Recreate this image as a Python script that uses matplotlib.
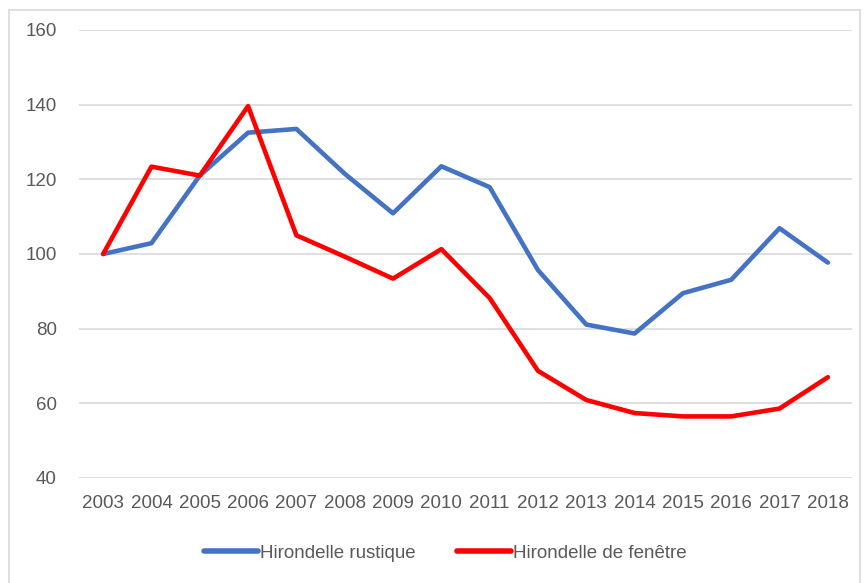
import matplotlib
matplotlib.use("Agg")
import matplotlib.pyplot as plt
from matplotlib.patches import Rectangle

# ── Data ──────────────────────────────────────────────────────────────────────
years = ["2003", "2004", "2005", "2006", "2007", "2008", "2009", "2010",
         "2011", "2012", "2013", "2014", "2015", "2016", "2017", "2018"]
rustique = [100, 102.9, 121, 132.5, 133.5, 121.5, 110.9, 123.5,
            117.9, 95.7, 81.1, 78.7, 89.5, 93.1, 106.9, 97.7]
fenetre = [100, 123.4, 121, 139.6, 105, 99.3, 93.4, 101.3,
           88.2, 68.7, 60.9, 57.4, 56.5, 56.5, 58.6, 67]

text_color = "#595959"
plt.rcParams["font.family"] = ["Liberation Sans", "DejaVu Sans"]

# ── Figure ────────────────────────────────────────────────────────────────────
fig = plt.figure(figsize=(8.68, 5.83), dpi=100)
ax = fig.add_axes([79 / 868, 1 - 478 / 583, (852 - 79) / 868, (478 - 30) / 583])

# outer chart border
fig.patches.append(Rectangle((9 / 868, -0.01), (860 - 9) / 868, 1 - 10 / 583 + 0.01,
                             transform=fig.transFigure, fill=False,
                             edgecolor="#d9d9d9", linewidth=1.2))

x = list(range(len(years)))
ax.plot(x, rustique, color="#4472C4", linewidth=3.3, solid_joinstyle="round",
        solid_capstyle="round", label="Hirondelle rustique", zorder=3)
ax.plot(x, fenetre, color="#FF0000", linewidth=3.3, solid_joinstyle="round",
        solid_capstyle="round", label="Hirondelle de fenêtre", zorder=3)

ax.set_xlim(-0.5, len(years) - 0.5)
ax.set_ylim(40, 160)
ax.set_yticks(range(40, 161, 20))
ax.set_xticks(x)
ax.set_xticklabels(years)
ax.yaxis.grid(True, color="#d9d9d9", linewidth=1.2)
ax.set_axisbelow(True)
for s in ax.spines.values():
    s.set_visible(False)
ax.tick_params(axis="both", length=0, labelsize=13.5, colors=text_color)
ax.tick_params(axis="x", pad=12)
ax.tick_params(axis="y", pad=16)

leg = fig.legend(loc="center", bbox_to_anchor=(445 / 868, 1 - 553 / 583), ncol=2,
                 frameon=False, fontsize=13.5, handlelength=2.9, handletextpad=0.1,
                 columnspacing=2.2)
for t in leg.get_texts():
    t.set_color(text_color)
for h in leg.get_lines():
    h.set_linewidth(4)

fig.savefig("out.png", dpi=100)
